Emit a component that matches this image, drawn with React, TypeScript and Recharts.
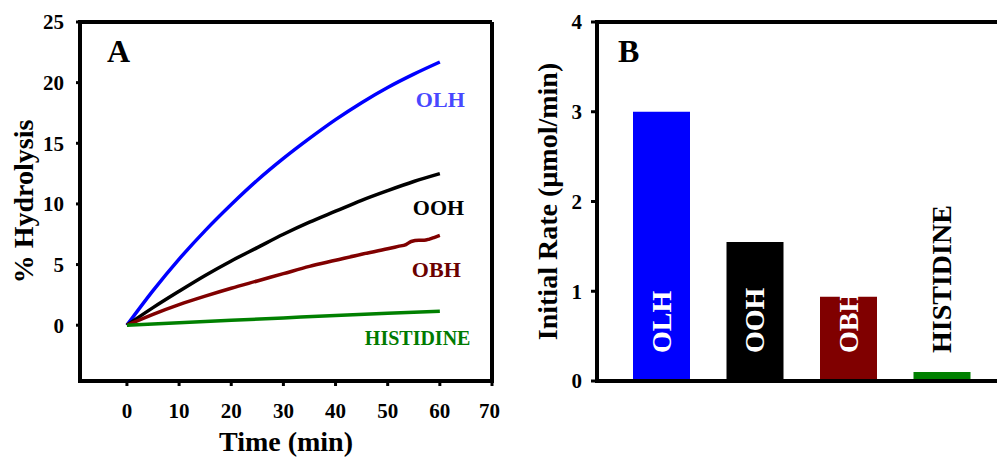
import React from 'react';
import {
  LineChart, Line, XAxis, YAxis, ReferenceLine, Label, LabelList,
  BarChart, Bar, Cell,
} from 'recharts';

// Panel A: hydrolysis progress curves (% vs minutes)
const minutes = [0, 5, 10, 15, 20, 25, 30, 35, 40, 45, 50, 55, 60];
const olhCurve = [0, 2.85, 5.45, 7.8, 9.95, 11.95, 13.75, 15.4, 16.95, 18.35, 19.6, 20.7, 21.7];
const oohCurve = [0, 1.45, 2.8, 4.1, 5.3, 6.4, 7.5, 8.5, 9.4, 10.3, 11.1, 11.85, 12.5];
const obhMinutes = [0, 5, 10, 15, 20, 25, 30, 35, 40, 45, 50, 52, 53.5, 54.5, 56, 57, 58, 59, 60];
const obhCurve = [0, 0.9, 1.7, 2.4, 3.05, 3.65, 4.25, 4.85, 5.35, 5.85, 6.3, 6.5, 6.65, 6.9, 7.0, 7.0, 7.1, 7.25, 7.4];
const histidineMinutes = [0, 10, 20, 30, 40, 50, 60];
const histidineCurve = [0, 0.2, 0.4, 0.6, 0.8, 0.98, 1.15];

const timeTicks = [0, 10, 20, 30, 40, 50, 60, 70];
const hydrolysisTicks = [0, 5, 10, 15, 20, 25];

// Panel B: initial rates
const compounds = ['OLH', 'OOH', 'OBH', 'HISTIDINE'];
const initialRates = [3.0, 1.55, 0.94, 0.1];
const rateTicks = [0, 1, 2, 3, 4];

const barColors = ['#0000ff', '#000000', '#800000', '#008000'];
const barLabelColors = ['#ffffff', '#ffffff', '#ffffff', '#000000'];

const SERIF = '"Liberation Serif", "Times New Roman", Times, serif';

const toPoints = (xs: number[], ys: number[]) => xs.map((t, i) => ({ t, y: ys[i] }));
const rateRows = compounds.map((name, i) => ({ name, rate: initialRates[i] }));

const tickStyle = { fill: '#000', fontSize: 21, fontWeight: 'bold', fontFamily: SERIF };
const axisStroke = { stroke: '#000', strokeWidth: 4, strokeLinecap: 'square' as const };
const tickStroke = { stroke: '#000', strokeWidth: 3 };

const endLabel = (text: string, color: string, lastIndex: number, dx: number, dy: number, size = 22) =>
  (props: any) => {
    if (props.index !== lastIndex) return null;
    return (
      <text x={props.x + dx} y={props.y + dy} fill={color} fontSize={size}
        fontWeight="bold" fontFamily={SERIF}>
        {text}
      </text>
    );
  };

const verticalTitle = (text: string, baselineX: number) => (props: any) => {
  const vb = props.viewBox;
  const cy = vb.y + vb.height / 2;
  return (
    <text x={baselineX} y={cy} transform={`rotate(-90 ${baselineX} ${cy})`} textAnchor="middle"
      fontSize={28} fontWeight="bold" fontFamily={SERIF} fill="#000">
      {text}
    </text>
  );
};

const panelLetter = (letter: string, dx: number) => (props: any) => {
  const vb = props.viewBox;
  return (
    <text x={vb.x + dx} y={vb.y + 40} fontSize={32} fontWeight="bold" fontFamily={SERIF} fill="#000">
      {letter}
    </text>
  );
};

const barName = (props: any) => {
  const { x, y, width, height, index } = props;
  const cx = x + width / 2 + 9;
  const by = y + height - 28;
  return (
    <text x={cx} y={by} transform={`rotate(-90 ${cx} ${by})`} fill={barLabelColors[index]}
      fontSize={28} fontWeight="bold" fontFamily={SERIF}>
      {compounds[index]}
    </text>
  );
};

const HydrolysisPanel = () => (
  <LineChart width={500} height={458} margin={{ top: 22, right: 8, left: 0, bottom: 0 }}>
    <XAxis type="number" dataKey="t" domain={[-9, 70]} ticks={timeTicks} allowDataOverflow
      height={77} tick={tickStyle} tickSize={5} tickMargin={17}
      axisLine={axisStroke} tickLine={tickStroke}>
      <Label content={(p: any) => (
        <text x={p.viewBox.x + p.viewBox.width / 2} y={p.viewBox.y + 70} textAnchor="middle"
          fontSize={28} fontWeight="bold" fontFamily={SERIF} fill="#000">Time (min)</text>
      )} />
    </XAxis>
    <YAxis type="number" domain={[-4.6, 25]} ticks={hydrolysisTicks} allowDataOverflow
      width={80} tick={tickStyle} tickSize={4} tickMargin={12}
      axisLine={axisStroke} tickLine={tickStroke}>
      <Label content={verticalTitle('% Hydrolysis', 33)} />
    </YAxis>
    <ReferenceLine y={25} stroke="#000" strokeWidth={4}>
      <Label content={panelLetter('A', 27)} />
    </ReferenceLine>
    <ReferenceLine x={70} stroke="#000" strokeWidth={4} />
    <Line data={toPoints(minutes, olhCurve)} dataKey="y" stroke="#0000ff" strokeWidth={3.5}
      dot={false} type="monotone" isAnimationActive={false}>
      <LabelList dataKey="y" content={endLabel('OLH', '#4848ff', minutes.length - 1, -24, 45)} />
    </Line>
    <Line data={toPoints(minutes, oohCurve)} dataKey="y" stroke="#000000" strokeWidth={3.5}
      dot={false} type="monotone" isAnimationActive={false}>
      <LabelList dataKey="y" content={endLabel('OOH', '#000000', minutes.length - 1, -27, 41)} />
    </Line>
    <Line data={toPoints(obhMinutes, obhCurve)} dataKey="y" stroke="#800000" strokeWidth={3.5}
      dot={false} type="monotone" isAnimationActive={false}>
      <LabelList dataKey="y" content={endLabel('OBH', '#6b0000', obhMinutes.length - 1, -28, 42)} />
    </Line>
    <Line data={toPoints(histidineMinutes, histidineCurve)} dataKey="y" stroke="#008000" strokeWidth={3.5}
      dot={false} type="monotone" isAnimationActive={false}>
      <LabelList dataKey="y" content={endLabel('HISTIDINE', '#007a00', histidineMinutes.length - 1, -75, 34, 20)} />
    </Line>
  </LineChart>
);

const RatePanel = () => (
  <BarChart width={497} height={458} data={rateRows} margin={{ top: 22, right: 0, left: 0, bottom: 47 }}>
    <XAxis dataKey="name" tick={false} tickLine={false} height={30}
      padding={{ left: 18, right: 8 }} axisLine={axisStroke} />
    <YAxis type="number" domain={[0, 4]} ticks={rateTicks} allowDataOverflow
      width={97} tick={tickStyle} tickSize={6} tickMargin={9}
      axisLine={axisStroke} tickLine={tickStroke}>
      <Label content={verticalTitle('Initial Rate (µmol/min)', 57)} />
    </YAxis>
    <ReferenceLine y={4} stroke="#000" strokeWidth={4}>
      <Label content={panelLetter('B', 21)} />
    </ReferenceLine>
    <Bar dataKey="rate" barSize={57} isAnimationActive={false}>
      {rateRows.map((row, i) => <Cell key={row.name} fill={barColors[i]} />)}
      <LabelList dataKey="rate" content={barName} />
    </Bar>
  </BarChart>
);

export default function App() {
  return (
    <div style={{ position: 'absolute', left: 0, top: 0, width: 997, height: 458, background: '#fff', overflow: 'hidden' }}>
      <div style={{ position: 'absolute', left: 0, top: 0 }}>
        <HydrolysisPanel />
      </div>
      <div style={{ position: 'absolute', left: 500, top: 0 }}>
        <RatePanel />
      </div>
    </div>
  );
}
